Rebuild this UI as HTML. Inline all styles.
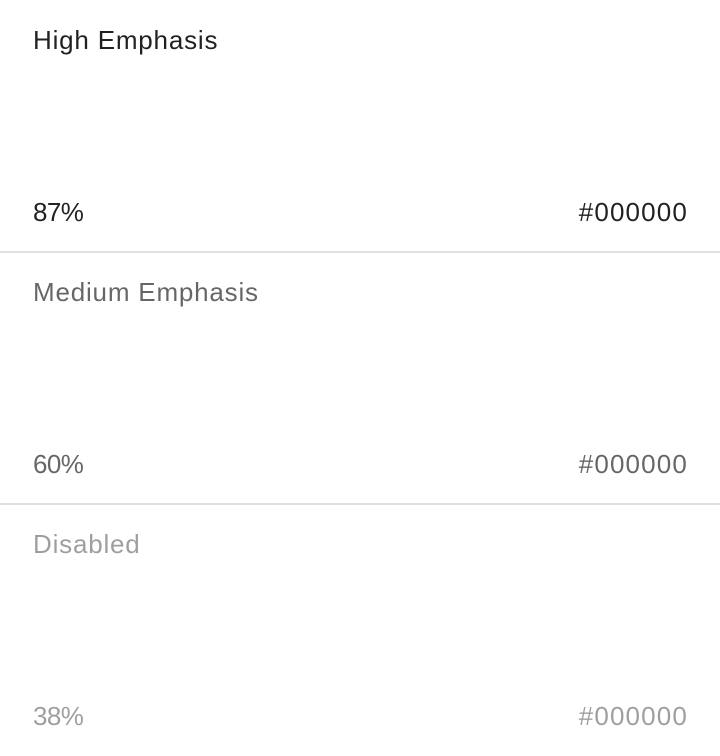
<!DOCTYPE html>
<html><head><meta charset="utf-8"><style>
html,body{margin:0;padding:0;background:#fff;width:720px;height:756px;overflow:hidden;font-family:"Liberation Sans",sans-serif;}
.sec{position:absolute;left:0;width:720px;height:252px;}
.t{position:absolute;font-size:26px;line-height:30px;white-space:nowrap;}
.title{left:33px;top:25px;letter-spacing:0.8px;}
.pct{left:33px;top:197px;letter-spacing:-0.6px;}
.hex{right:32px;top:197px;letter-spacing:1.15px;}
.div{position:absolute;left:0;width:720px;height:2px;background:#e0e0e0;}
</style></head><body>
<div class="sec" style="top:0;color:rgba(0,0,0,.87)">
<div class="t title">High Emphasis</div>
<div class="t pct">87%</div>
<div class="t hex">#000000</div>
</div>
<div class="div" style="top:251px"></div>
<div class="sec" style="top:252px;color:rgba(0,0,0,.6)">
<div class="t title">Medium Emphasis</div>
<div class="t pct">60%</div>
<div class="t hex">#000000</div>
</div>
<div class="div" style="top:503px"></div>
<div class="sec" style="top:504px;color:rgba(0,0,0,.38)">
<div class="t title">Disabled</div>
<div class="t pct">38%</div>
<div class="t hex">#000000</div>
</div>
</body></html>
